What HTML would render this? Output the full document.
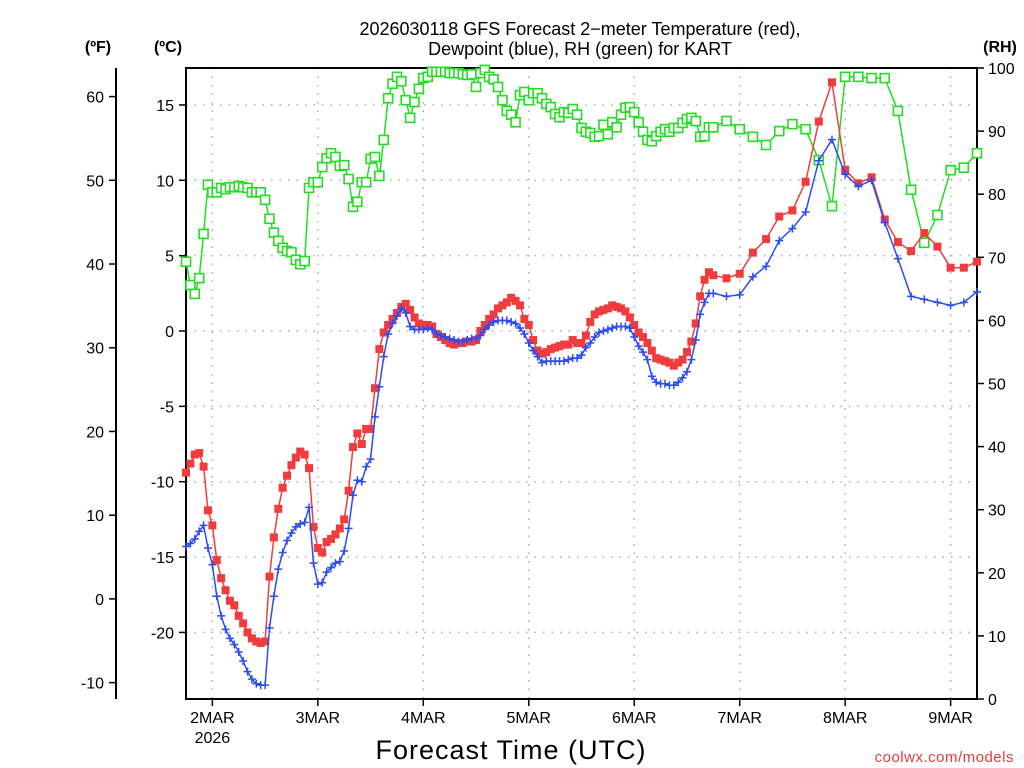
<!DOCTYPE html>
<html><head><meta charset="utf-8"><style>
body{margin:0;background:#fff;}
svg{display:block;font-family:"Liberation Sans",sans-serif;}
</style></head><body>
<svg id="chart" width="1024" height="768" viewBox="0 0 1024 768" xmlns="http://www.w3.org/2000/svg">
<rect width="1024" height="768" fill="#fff"/>
<g id="grid"></g>
<g id="axes"></g>
<g id="series"></g>
<text x="580" y="35" font-size="18" text-anchor="middle">2026030118 GFS Forecast 2−meter Temperature (red),</text>
<text x="580" y="55" font-size="18" text-anchor="middle">Dewpoint (blue), RH (green) for KART</text>
<text x="98" y="52" font-size="16" font-weight="bold" text-anchor="middle">(ºF)</text>
<text x="168" y="52" font-size="16" font-weight="bold" text-anchor="middle">(ºC)</text>
<text x="1000" y="52" font-size="16" font-weight="bold" text-anchor="middle">(RH)</text>
<text x="511" y="759" font-size="27" text-anchor="middle" letter-spacing="1">Forecast Time (UTC)</text>
<text x="1014" y="762" font-size="15" fill="#e83a3a" text-anchor="end" letter-spacing="0.5">coolwx.com/models</text>
</svg>
<script>
const hoursHourly = Array.from({length:121},(_,i)=>i);
const hours3h = [123,126,129,132,135,138,141,144,147,150,153,156,159,162,165,168,171,174,177,180];
const tempHourly = [-9.4,-8.8,-8.2,-8.1,-9.0,-11.9,-12.9,-15.2,-16.4,-17.2,-17.9,-18.2,-18.9,-19.4,-20.0,-20.4,-20.6,-20.7,-20.6,-16.3,-13.7,-11.8,-10.4,-9.6,-8.9,-8.4,-8.0,-8.2,-9.1,-13.0,-14.4,-14.7,-14.0,-13.8,-13.5,-13.1,-12.5,-10.6,-7.7,-6.8,-7.5,-6.5,-6.5,-3.8,-1.2,-0.1,0.4,0.8,1.2,1.6,1.8,1.4,0.9,0.5,0.4,0.4,0.3,-0.2,-0.4,-0.6,-0.8,-0.9,-0.8,-0.8,-0.7,-0.7,-0.6,0.0,0.4,0.8,1.1,1.5,1.7,1.9,2.2,2.0,1.7,0.8,0.4,-0.6,-1.3,-1.5,-1.4,-1.2,-1.1,-1.0,-0.9,-0.9,-0.6,-0.8,-0.8,-0.3,0.6,1.1,1.3,1.4,1.5,1.7,1.6,1.5,1.3,0.9,0.4,-0.1,-0.4,-0.8,-1.3,-1.8,-1.9,-2.0,-2.1,-2.3,-2.1,-1.9,-1.4,-0.7,0.5,2.3,3.4,3.9,3.7];
const temp3h = [3.5,3.8,5.2,6.1,7.6,8.0,9.9,13.9,16.5,10.7,9.8,10.2,7.4,5.9,5.3,6.5,5.6,4.2,4.2,4.6];
const dewHourly = [-14.3,-14.1,-13.8,-13.3,-12.9,-14.4,-15.5,-17.6,-18.9,-19.8,-20.4,-20.8,-21.3,-21.9,-22.6,-23.1,-23.4,-23.5,-23.5,-19.7,-17.6,-15.8,-14.7,-13.9,-13.4,-13.0,-12.8,-12.7,-11.7,-15.4,-16.8,-16.7,-16.0,-15.7,-15.4,-15.3,-14.6,-13.1,-10.9,-9.9,-10.0,-9.0,-8.5,-5.7,-3.7,-1.7,-0.2,0.5,1.0,1.5,1.2,0.3,0.1,0.1,0.1,0.2,0.1,-0.2,-0.3,-0.4,-0.5,-0.6,-0.7,-0.7,-0.6,-0.5,-0.5,-0.3,0.1,0.4,0.6,0.7,0.7,0.7,0.6,0.5,0.2,-0.2,-0.8,-1.3,-1.7,-2.1,-2.0,-2.0,-2.0,-2.0,-2.0,-1.9,-1.8,-1.8,-1.6,-1.1,-0.8,-0.4,-0.1,0.0,0.1,0.2,0.3,0.3,0.3,0.2,-0.4,-1.0,-1.4,-1.9,-3.0,-3.4,-3.5,-3.5,-3.6,-3.6,-3.4,-3.1,-2.7,-1.9,-0.6,1.1,1.9,2.5,2.5];
const dew3h = [2.3,2.4,3.6,4.3,6.0,6.8,7.9,11.3,12.7,10.4,9.6,10.0,7.2,4.8,2.3,2.1,1.9,1.7,1.9,2.6];
const rhHourly = [69.3,65.6,64.2,66.7,73.7,81.5,80.3,80.3,81.0,80.8,81.1,81.1,81.3,81.1,81.0,80.3,80.3,80.3,79.1,76.1,73.9,72.6,71.5,71.0,70.8,69.6,68.9,69.4,81.0,81.9,81.9,84.3,85.7,86.5,85.9,84.5,84.6,82.4,78.0,78.8,81.9,81.9,85.6,85.9,82.9,88.6,95.2,97.5,98.6,97.9,94.9,92.1,94.6,96.7,98.4,98.6,99.4,99.4,99.4,99.4,99.2,99.2,99.2,99.0,98.9,99.0,97.0,99.2,99.7,98.6,98.2,97.0,94.9,93.2,92.6,91.4,95.7,96.2,94.9,96.0,96.0,95.2,94.3,93.8,92.7,92.2,93.0,92.9,93.5,92.6,90.5,89.9,89.7,89.1,89.2,91.0,89.5,91.4,90.6,92.6,93.7,93.8,93.0,91.4,89.9,88.6,88.4,89.2,89.9,90.3,89.9,90.5,90.5,91.3,91.9,92.1,91.6,89.1,89.2,90.6,90.6];
const rh3h = [91.6,90.3,89.1,87.8,90.0,91.1,90.3,85.4,78.1,98.6,98.6,98.4,98.4,93.2,80.7,72.3,76.7,83.8,84.2,86.5];
const celsiusTicks = [15,10,5,0,-5,-10,-15,-20];
const fahrenheitTicks = [60,50,40,30,20,10,0,-10];
const rhTicks = [100,90,80,70,60,50,40,30,20,10,0];
const dayHours = [6,30,54,78,102,126,150,174];
const dayLabels = ['2MAR','3MAR','4MAR','5MAR','6MAR','7MAR','8MAR','9MAR'];

const L=186,R=977,T=68,B=699;
const xS=h=>L+(R-L)*h/180;
const cS=c=>331-c*15.07;
const fS=f=>cS((f-32)*5/9);
const rS=r=>B-(B-T)*r/100;
const NS='http://www.w3.org/2000/svg';
function mk(parent,tag,attrs){const e=document.createElementNS(NS,tag);for(const k in attrs)e.setAttribute(k,attrs[k]);parent.appendChild(e);return e;}
const grid=document.getElementById('grid'),axes=document.getElementById('axes'),series=document.getElementById('series');

celsiusTicks.forEach(c=>{const y=cS(c);
 const g=mk(grid,'line',{x1:L,x2:R,y1:y,y2:y,stroke:'#aaa','stroke-width':1.5,'stroke-dasharray':'1.5 7'});
 
 
 const t=mk(axes,'line',{x1:L-7,x2:L,y1:y,y2:y,stroke:'#000','stroke-width':1.5});
 
 
 const tx=mk(axes,'text',{x:174,y:y+6,'font-size':16,'text-anchor':'end'});tx.textContent=c;
 
 
});
dayHours.forEach((h,i)=>{const x=xS(h);
 const g=mk(grid,'line',{x1:x,x2:x,y1:T,y2:B,stroke:'#aaa','stroke-width':1.5,'stroke-dasharray':'1.5 7'});
 
 
 const t=mk(axes,'line',{x1:x,x2:x,y1:B,y2:B+7,stroke:'#000','stroke-width':1.5});
 
 
 const tx=mk(axes,'text',{x:x,y:723,'font-size':16,'text-anchor':'middle'});tx.textContent=dayLabels[i];
 
 
});
const yr=mk(axes,'text',{x:xS(dayHours[0]),y:743,'font-size':16,'text-anchor':'middle'});yr.textContent='2026';


fahrenheitTicks.forEach(f=>{const y=fS(f);
 const t=mk(axes,'line',{x1:109,x2:116,y1:y,y2:y,stroke:'#000','stroke-width':1.5});
 
 
 const tx=mk(axes,'text',{x:104,y:y+6,'font-size':16,'text-anchor':'end'});tx.textContent=f;
 
 
});
rhTicks.forEach(r=>{const y=rS(r);
 const t=mk(axes,'line',{x1:R,x2:R+7,y1:y,y2:y,stroke:'#000','stroke-width':1.5});
 
 
 const tx=mk(axes,'text',{x:988,y:y+6,'font-size':16,'text-anchor':'start'});tx.textContent=r;
 
 
});
const fr=mk(axes,'rect',{x:L,y:T,width:R-L,height:B-T,fill:'none',stroke:'#000','stroke-width':2});


const fa=mk(axes,'line',{x1:116,x2:116,y1:T,y2:B,stroke:'#000','stroke-width':2});



const allH=hoursHourly.concat(hours3h);
function draw(vals,yf,color,kind,name){
 const pts=vals.map((v,i)=>[xS(allH[i]),yf(v)]);
 const g=mk(series,'g',{});
 
 
 const pl=mk(g,'polyline',{points:pts.map(p=>p.join(',')).join(' '),fill:'none',stroke:color,'stroke-width':1.5});
 
 
 pts.forEach(p=>{let m;
  if(kind==='fill'){m=mk(g,'rect',{x:p[0]-4,y:p[1]-4,width:8,height:8,fill:color});}
  else if(kind==='open'){m=mk(g,'rect',{x:p[0]-4.5,y:p[1]-4.5,width:9,height:9,fill:'#fff',stroke:color,'stroke-width':1.6});}
  else{m=mk(g,'path',{d:`M${p[0]-4},${p[1]}h8M${p[0]},${p[1]-4}v8`,stroke:color,'stroke-width':1.5});}
  
  
 });
}
draw(rhHourly.concat(rh3h),rS,'#22dd22','open','rh');
draw(tempHourly.concat(temp3h),cS,'#f03c3c','fill','temperature');
draw(dewHourly.concat(dew3h),cS,'#2c4cf5','plus','dewpoint');
</script>
</body></html>
